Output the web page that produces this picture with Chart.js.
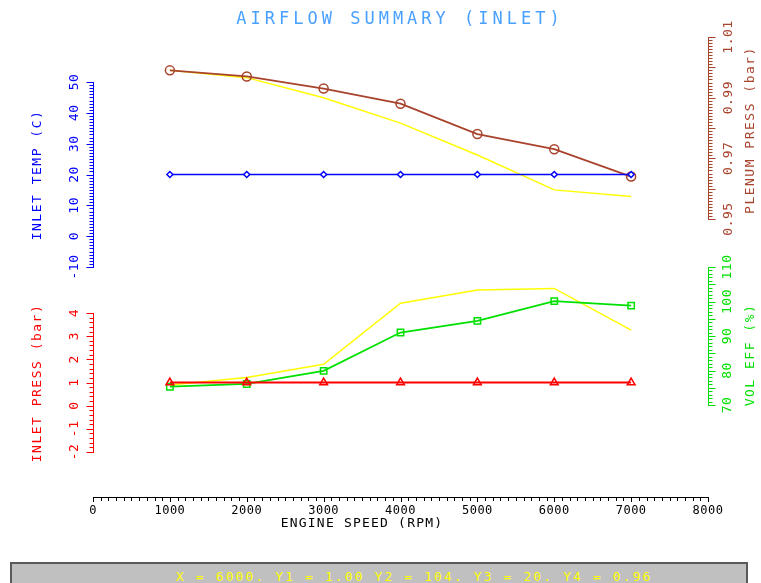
<!DOCTYPE html>
<html>
<head>
<meta charset="utf-8">
<title>Airflow summary (inlet)</title>
<script src="https://cdn.jsdelivr.net/npm/chart.js@4.4.1/dist/chart.umd.min.js"></script>
<style>
    body { margin: 0; background: #ffffff; }
    #wrap { position: relative; width: 761px; height: 583px; overflow: hidden; }
    #grafico { position: absolute; left: 0; top: 0; }
    #titulo {
        position: absolute; left: 0; top: 8px; width: 800px; text-align: center;
        font: 17px "DejaVu Sans Mono", monospace; letter-spacing: 4px; color: #4aa0ff;
    }
    #estado {
        position: absolute; left: 10px; top: 562px; width: 738px; height: 24px;
        background: #c0c0c0; border-top: 2px solid #5a5a5a; border-left: 2px solid #5a5a5a; border-right: 2px solid #5a5a5a;
        font: 13px "DejaVu Sans Mono", monospace; letter-spacing: 2.1px; color: #ffff00;
        padding-left: 164px; line-height: 26px; box-sizing: border-box; white-space: nowrap;
    }
</style>
</head>
<body>
<div id="wrap">
    <canvas id="grafico" width="761" height="583"></canvas>
    <div id="titulo">AIRFLOW SUMMARY (INLET)</div>
    <div id="estado">X = 6000. Y1 = 1.00 Y2 = 104. Y3 = 20. Y4 = 0.96</div>
</div>
<script>
// datos
const rpm = [1000, 2000, 3000, 4000, 5000, 6000, 7000];
const inletTemp = [20, 20, 20, 20, 20, 20, 20];
const plenumPress = [0.999, 0.997, 0.993, 0.988, 0.978, 0.973, 0.964];
const plenumPressRef = [0.999, 0.9966, 0.990, 0.9816, 0.9711, 0.9596, 0.9574];
const inletPress = [1.0, 1.0, 1.0, 1.0, 1.0, 1.0, 1.0];
const volEff = [75.3, 76.1, 79.9, 91.0, 94.4, 100.1, 98.8];
const volEffRef = [75.8, 78.0, 81.8, 99.5, 103.3, 103.8, 91.7];

const xTicks = [0, 1000, 2000, 3000, 4000, 5000, 6000, 7000, 8000];
const tempTicks = [-10, 0, 10, 20, 30, 40, 50];
const pressTicks = [-2, -1, 0, 1, 2, 3, 4];
const plenumTicks = [0.95, 0.97, 0.99, 1.01];
const volTicks = [70, 80, 90, 100, 110];

// area del grafico en pixeles
const TOP = 37, BOTTOM = 497, LEFT = 93, RIGHT = 708;

function rango(vA, pA, vB, pB){
    let k = (pB - pA) / (vB - vA);
    return { min: vA + (BOTTOM - pA) / k, max: vA + (TOP - pA) / k };
}

const rTemp = rango(-10, 267, 50, 82);
const rPress = rango(-2, 452, 4, 313);
const rPlenum = rango(0.95, 219, 1.01, 37);
const rVol = rango(70, 405, 110, 267);

function puntos(ys){
    return rpm.map((x, i) => ({ x: x, y: ys[i] }));
}

const ejes = [
    { id: 'yTemp', lado: 'left', lo: -10, hi: 50, minor: 1, major: 10, ticks: tempTicks, dec: 0,
      color: '#0000ff', titulo: 'INLET TEMP (C)', xLabel: 75, xTitulo: 38, yTitulo: 175 },
    { id: 'yPress', lado: 'left', lo: -2, hi: 4, minor: 0.2, major: 1, ticks: pressTicks, dec: 0,
      color: '#ff0000', titulo: 'INLET PRESS (bar)', xLabel: 75, xTitulo: 38, yTitulo: 383 },
    { id: 'yPlenum', lado: 'right', lo: 0.95, hi: 1.01, minor: 0.001, major: 0.01, ticks: plenumTicks, dec: 2,
      color: '#a8432c', titulo: 'PLENUM PRESS (bar)', xLabel: 729, xTitulo: 751, yTitulo: 130 },
    { id: 'yVol', lado: 'right', lo: 70, hi: 110, minor: 1, major: 5, ticks: volTicks, dec: 0,
      color: '#00e000', titulo: 'VOL EFF (%)', xLabel: 728, xTitulo: 751, yTitulo: 355 },
];

function texto(ctx, t, x, y, rot){
    ctx.save();
    ctx.translate(x, y);
    if (rot) ctx.rotate(-Math.PI / 2);
    ctx.fillText(t, 0, 0);
    ctx.restore();
}

const ejesPlugin = {
    id: 'ejesPlugin',
    afterDraw(chart){
        const ctx = chart.ctx;
        ctx.save();
        ctx.lineWidth = 1;
        ctx.textAlign = 'center';
        ctx.textBaseline = 'middle';
        // ejes verticales
        for (const e of ejes) {
            const s = chart.scales[e.id];
            const x0 = e.lado == 'left' ? LEFT : RIGHT;
            const dir = e.lado == 'left' ? -1 : 1;
            ctx.strokeStyle = e.color;
            ctx.fillStyle = e.color;
            ctx.beginPath();
            ctx.moveTo(x0 + 0.5, Math.round(s.getPixelForValue(e.hi)));
            ctx.lineTo(x0 + 0.5, Math.round(s.getPixelForValue(e.lo)) + 1);
            let n = Math.round((e.hi - e.lo) / e.minor);
            let cadaMajor = Math.round(e.major / e.minor);
            for (let i = 0; i <= n; i++) {
                let y = Math.round(s.getPixelForValue(e.lo + i * e.minor)) + 0.5;
                let largo = (i % cadaMajor == 0) ? 7 : 4;
                ctx.moveTo(x0 + 0.5, y);
                ctx.lineTo(x0 + 0.5 + dir * largo, y);
            }
            ctx.stroke();
            ctx.font = '13px "DejaVu Sans Mono", monospace';
            ctx.letterSpacing = '0.5px';
            for (const t of e.ticks) {
                texto(ctx, t.toFixed(e.dec), e.xLabel, s.getPixelForValue(t), true);
            }
            ctx.font = '13px "DejaVu Sans Mono", monospace';
            ctx.letterSpacing = '1.5px';
            texto(ctx, e.titulo, e.xTitulo, e.yTitulo, true);
        }
        // eje x
        const sx = chart.scales.x;
        ctx.strokeStyle = '#000000';
        ctx.fillStyle = '#000000';
        ctx.beginPath();
        ctx.moveTo(LEFT, BOTTOM + 0.5);
        ctx.lineTo(RIGHT + 1, BOTTOM + 0.5);
        for (let i = 0; i <= 80; i++) {
            let x = Math.round(sx.getPixelForValue(i * 100)) + 0.5;
            ctx.moveTo(x, BOTTOM);
            ctx.lineTo(x, BOTTOM + (i % 10 == 0 ? 5 : 4));
        }
        ctx.stroke();
        ctx.font = '12px "DejaVu Sans Mono", monospace';
        ctx.letterSpacing = '0.5px';
        for (const t of xTicks) {
            texto(ctx, String(t), sx.getPixelForValue(t), 511, false);
        }
        ctx.font = '13px "DejaVu Sans Mono", monospace';
        ctx.letterSpacing = '1.2px';
        texto(ctx, 'ENGINE SPEED (RPM)', 362, 524, false);
        ctx.restore();
    }
};

function inicializarGrafico(){
    const ctx = document.getElementById('grafico').getContext('2d');
    new Chart(ctx, {
        type: 'line',
        data: {
            datasets: [
                { label: 'INLET TEMP', data: puntos(inletTemp), yAxisID: 'yTemp',
                  borderColor: '#0000ff', backgroundColor: '#0000ff', borderWidth: 1.5,
                  pointStyle: 'rectRot', pointRadius: 3, pointBorderWidth: 1.5, pointBackgroundColor: '#ffffff' },
                { label: 'PLENUM PRESS', data: puntos(plenumPress), yAxisID: 'yPlenum',
                  borderColor: '#a8432c', backgroundColor: '#a8432c', borderWidth: 1.8,
                  pointStyle: 'circle', pointRadius: 4.5, pointBorderWidth: 1.5, pointBackgroundColor: 'rgba(0,0,0,0)' },
                { label: 'INLET PRESS', data: puntos(inletPress), yAxisID: 'yPress',
                  borderColor: '#ff0000', backgroundColor: '#ff0000', borderWidth: 1.8,
                  pointStyle: 'triangle', pointRadius: 4.5, pointBorderWidth: 1.5, pointBackgroundColor: 'rgba(0,0,0,0)' },
                { label: 'VOL EFF', data: puntos(volEff), yAxisID: 'yVol',
                  borderColor: '#00e000', backgroundColor: '#00e000', borderWidth: 1.8,
                  pointStyle: 'rect', pointRadius: 4.5, pointBorderWidth: 1.5, pointBackgroundColor: 'rgba(0,0,0,0)' },
                { label: 'PLENUM PRESS REF', data: puntos(plenumPressRef), yAxisID: 'yPlenum',
                  borderColor: '#ffff00', borderWidth: 1.5, pointRadius: 0 },
                { label: 'VOL EFF REF', data: puntos(volEffRef), yAxisID: 'yVol',
                  borderColor: '#ffff00', borderWidth: 1.5, pointRadius: 0 },
            ]
        },
        options: {
            responsive: false,
            animation: false,
            devicePixelRatio: 1,
            layout: { padding: { left: LEFT, right: 761 - RIGHT, top: TOP, bottom: 583 - BOTTOM } },
            plugins: { legend: { display: false }, tooltip: { enabled: false }, title: { display: false } },
            elements: { line: { tension: 0 } },
            scales: {
                x: { type: 'linear', min: 0, max: 8000, display: false },
                yTemp: { type: 'linear', min: rTemp.min, max: rTemp.max, display: false },
                yPress: { type: 'linear', min: rPress.min, max: rPress.max, display: false },
                yPlenum: { type: 'linear', min: rPlenum.min, max: rPlenum.max, display: false },
                yVol: { type: 'linear', min: rVol.min, max: rVol.max, display: false },
            }
        },
        plugins: [ejesPlugin]
    });
}
window.onload = inicializarGrafico();
</script>
</body>
</html>
